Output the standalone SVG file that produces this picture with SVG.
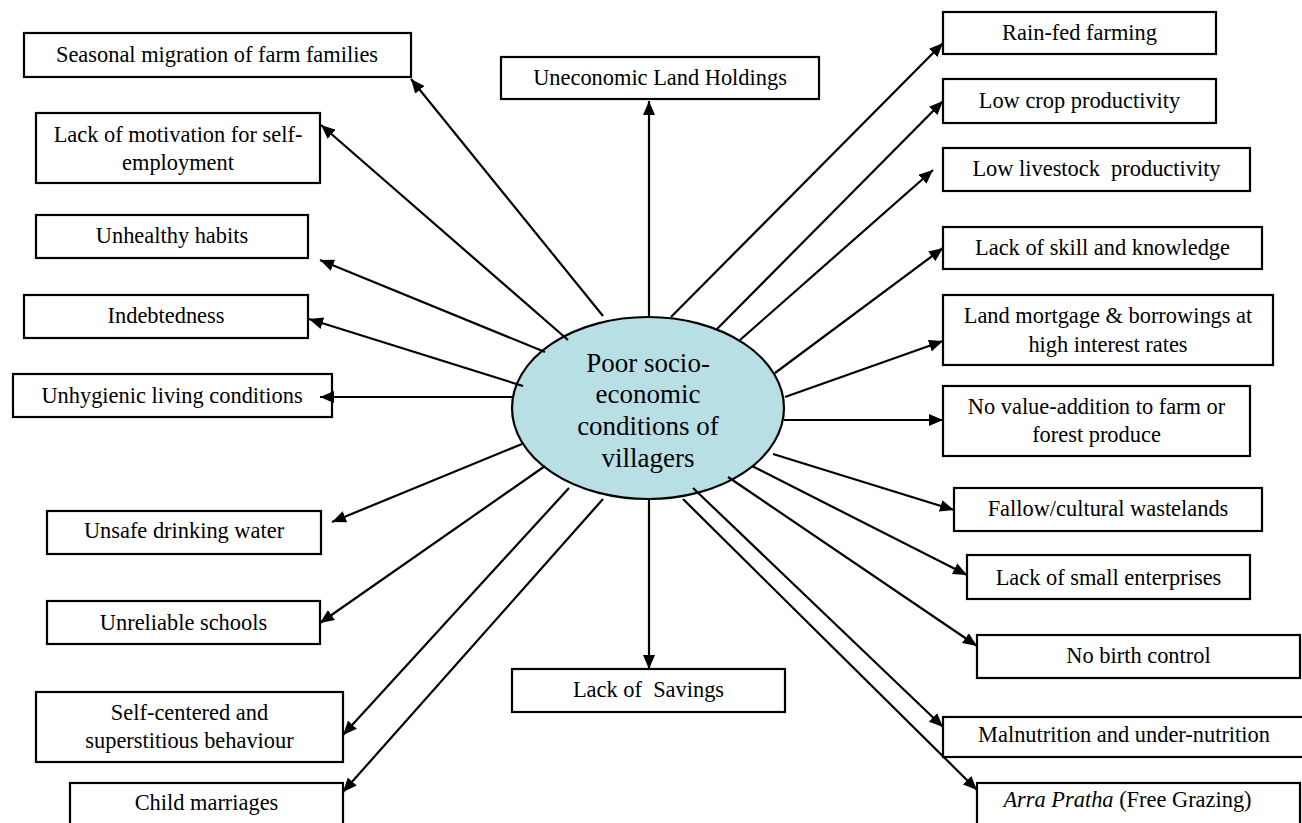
<svg xmlns="http://www.w3.org/2000/svg" width="1302" height="823" viewBox="0 0 1302 823">
<style>
.box{fill:#fff;stroke:#000;stroke-width:2.2}
.t{font-family:'Liberation Serif','Times New Roman','DejaVu Serif',serif;font-size:22.4px;fill:#000;text-anchor:middle}
.c{font-family:'Liberation Serif','Times New Roman','DejaVu Serif',serif;font-size:27px;fill:#000;text-anchor:middle}
.ln{stroke:#000;stroke-width:2.2;fill:none;marker-end:url(#ah)}
</style>
<defs>
<marker id="ah" markerUnits="userSpaceOnUse" markerWidth="14" markerHeight="12" refX="14" refY="6" orient="auto">
<path d="M0,0 L14,6 L0,12 z" fill="#000"/>
</marker>
</defs>
<rect width="1302" height="823" fill="#fff"/>
<g id="center">
<ellipse cx="648" cy="408" rx="136" ry="91" fill="#b8dfe3" stroke="#000" stroke-width="2.2"/>
<text class="c" x="648" y="372">Poor socio-</text>
<text class="c" x="648" y="403">economic</text>
<text class="c" x="648" y="435">conditions of</text>
<text class="c" x="648" y="467">villagers</text>
</g>
<g id="n1"><rect class="box" x="24" y="33" width="387" height="44"/><text class="t" x="217" y="62">Seasonal migration of farm families</text></g>
<g id="n2"><rect class="box" x="36" y="113" width="284" height="70"/><text class="t" x="178" y="142">Lack of motivation for self-</text><text class="t" x="178" y="170">employment</text></g>
<g id="n3"><rect class="box" x="36" y="215" width="272" height="43"/><text class="t" x="172" y="243">Unhealthy habits</text></g>
<g id="n4"><rect class="box" x="24" y="295" width="284" height="43"/><text class="t" x="166" y="323">Indebtedness</text></g>
<g id="n5"><rect class="box" x="13" y="374" width="319" height="43"/><text class="t" x="172" y="403">Unhygienic living conditions</text></g>
<g id="n6"><rect class="box" x="47" y="511" width="274" height="43"/><text class="t" x="184" y="538">Unsafe drinking water</text></g>
<g id="n7"><rect class="box" x="47" y="601" width="273" height="43"/><text class="t" x="183.5" y="630">Unreliable schools</text></g>
<g id="n8"><rect class="box" x="36" y="692" width="307" height="70"/><text class="t" x="189.5" y="720">Self-centered and</text><text class="t" x="189.5" y="748">superstitious behaviour</text></g>
<g id="n9"><rect class="box" x="70" y="783" width="273" height="46"/><text class="t" x="206.5" y="810">Child marriages</text></g>
<g id="n10"><rect class="box" x="501" y="57" width="318" height="42"/><text class="t" x="660" y="85">Uneconomic Land Holdings</text></g>
<g id="n11"><rect class="box" x="512" y="669" width="273" height="43"/><text class="t" x="648.5" y="697" xml:space="preserve">Lack of  Savings</text></g>
<g id="n12"><rect class="box" x="943" y="12" width="273" height="42"/><text class="t" x="1079.5" y="40">Rain-fed farming</text></g>
<g id="n13"><rect class="box" x="943" y="79" width="273" height="44"/><text class="t" x="1079.5" y="108">Low crop productivity</text></g>
<g id="n14"><rect class="box" x="943" y="148" width="307" height="43"/><text class="t" x="1096.5" y="176" xml:space="preserve">Low livestock  productivity</text></g>
<g id="n15"><rect class="box" x="943" y="227" width="319" height="42"/><text class="t" x="1102.5" y="255">Lack of skill and knowledge</text></g>
<g id="n16"><rect class="box" x="943" y="295" width="330" height="70"/><text class="t" x="1108" y="323">Land mortgage &amp; borrowings at</text><text class="t" x="1108" y="352">high interest rates</text></g>
<g id="n17"><rect class="box" x="943" y="386" width="307" height="70"/><text class="t" x="1096.5" y="414">No value-addition to farm or</text><text class="t" x="1096.5" y="442">forest produce</text></g>
<g id="n18"><rect class="box" x="954" y="488" width="308" height="43"/><text class="t" x="1108" y="516">Fallow/cultural wastelands</text></g>
<g id="n19"><rect class="box" x="967" y="555" width="283" height="44"/><text class="t" x="1108.5" y="585">Lack of small enterprises</text></g>
<g id="n20"><rect class="box" x="977" y="635" width="323" height="43"/><text class="t" x="1138.5" y="663">No birth control</text></g>
<g id="n21"><rect class="box" x="943" y="717" width="365" height="40"/><text class="t" x="1124" y="742">Malnutrition and under-nutrition</text></g>
<g id="n22"><rect class="box" x="977" y="783" width="323" height="46"/><text class="t" x="1127.5" y="807"><tspan font-style="italic">Arra Pratha</tspan> (Free Grazing)</text></g>
<g id="connectors">
<line class="ln" x1="603" y1="316" x2="411" y2="79"/>
<line class="ln" x1="568" y1="340" x2="321" y2="125"/>
<line class="ln" x1="545" y1="352" x2="320" y2="260"/>
<line class="ln" x1="523" y1="386" x2="309" y2="319"/>
<line class="ln" x1="512" y1="397" x2="320" y2="397"/>
<line class="ln" x1="522" y1="444" x2="332" y2="522"/>
<line class="ln" x1="545" y1="466" x2="320" y2="623"/>
<line class="ln" x1="569" y1="488" x2="343" y2="735"/>
<line class="ln" x1="603" y1="499" x2="343" y2="792"/>
<line class="ln" x1="649" y1="317" x2="649" y2="101"/>
<line class="ln" x1="649" y1="499" x2="649" y2="669"/>
<line class="ln" x1="671" y1="317" x2="943" y2="43"/>
<line class="ln" x1="717" y1="329" x2="943" y2="101"/>
<line class="ln" x1="740" y1="340" x2="933" y2="170"/>
<line class="ln" x1="775" y1="373" x2="943" y2="248"/>
<line class="ln" x1="785" y1="397" x2="943" y2="341"/>
<line class="ln" x1="784" y1="420" x2="943" y2="420"/>
<line class="ln" x1="773" y1="454" x2="954" y2="510"/>
<line class="ln" x1="752" y1="466" x2="967" y2="575"/>
<line class="ln" x1="728" y1="477" x2="977" y2="646"/>
<line class="ln" x1="693" y1="488" x2="943" y2="727"/>
<line class="ln" x1="683" y1="499" x2="977" y2="790"/>
</g>
</svg>
